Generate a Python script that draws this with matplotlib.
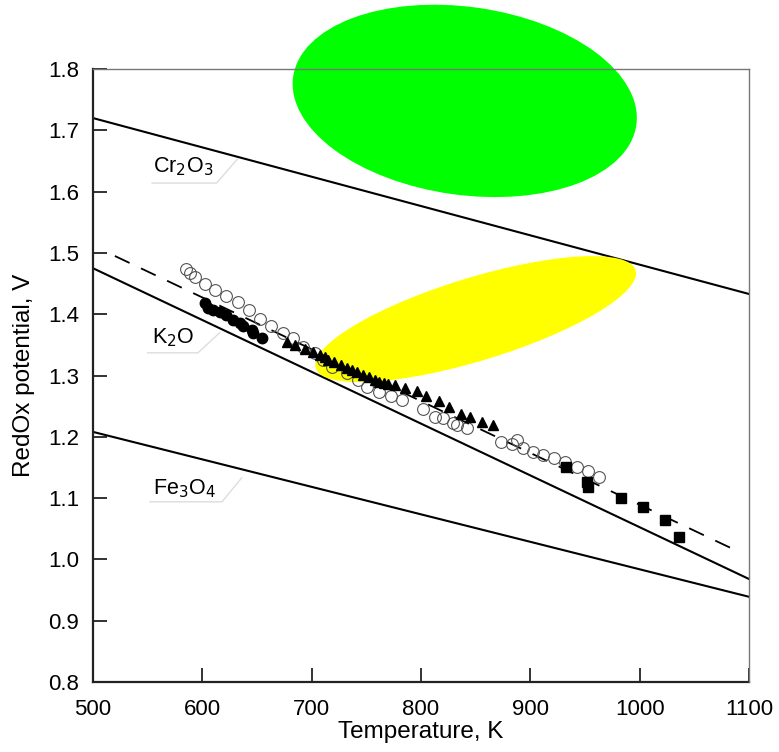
import matplotlib
matplotlib.use('Agg')
import matplotlib.pyplot as plt
from matplotlib.patches import Ellipse
from matplotlib.transforms import Affine2D

plt.rcParams['font.family'] = ['Liberation Sans', 'DejaVu Sans']

# open circles
T_open = [585, 589, 593, 602, 612, 622, 633, 643, 653, 663, 674, 683, 692, 703, 710, 719, 732,
          742, 751, 762, 773, 783, 802, 813, 820, 829, 833, 842, 873, 883, 888, 893, 902, 912,
          922, 932, 943, 953, 963]
V_open = [1.473, 1.467, 1.461, 1.450, 1.439, 1.430, 1.420, 1.407, 1.393, 1.381, 1.369, 1.361,
          1.347, 1.337, 1.325, 1.314, 1.304, 1.293, 1.281, 1.273, 1.267, 1.260, 1.245, 1.232,
          1.231, 1.222, 1.220, 1.214, 1.192, 1.189, 1.194, 1.181, 1.176, 1.170, 1.165, 1.159,
          1.151, 1.145, 1.134]

# filled circles
T_fc = [602, 605, 610, 616, 622, 628, 634, 637, 645, 646, 655]
V_fc = [1.418, 1.410, 1.407, 1.404, 1.399, 1.391, 1.385, 1.381, 1.374, 1.369, 1.361]

# filled triangles
T_tri = [677, 685, 694, 701, 708, 712, 715, 720, 727, 732, 737, 741, 747, 752, 758, 762, 766,
         770, 776, 785, 796, 805, 816, 826, 837, 845, 856, 866]
V_tri = [1.355, 1.350, 1.344, 1.339, 1.333, 1.330, 1.325, 1.322, 1.317, 1.313, 1.309, 1.306,
         1.301, 1.297, 1.293, 1.290, 1.287, 1.286, 1.284, 1.279, 1.274, 1.267, 1.259, 1.249,
         1.237, 1.233, 1.224, 1.219]

# filled squares
T_sq = [933, 952, 953, 983, 1003, 1023, 1036]
V_sq = [1.151, 1.127, 1.118, 1.100, 1.085, 1.065, 1.036]

# equilibrium lines
T_line = [500, 1100]
V_cr2o3 = [1.720, 1.433]
V_k2o = [1.475, 0.968]
V_fe3o4 = [1.208, 0.939]
T_dash = [520, 1090]
V_dash = [1.495, 1.013]

fig = plt.figure(figsize=(7.79, 7.52), dpi=100)
ax = fig.add_axes([0.1194, 0.0931, 0.8421, 0.8151])

ax.plot(T_line, V_cr2o3, color='black', lw=1.5, zorder=2)
ax.plot(T_line, V_k2o, color='black', lw=1.5, zorder=2)
ax.plot(T_line, V_fe3o4, color='black', lw=1.5, zorder=2)
ax.plot(T_dash, V_dash, color='black', lw=1.3, dashes=(9, 7), zorder=2)

# ellipses drawn in a space where x and y have the same pixel scale
k = 560.7
tr = Affine2D().scale(1, 1.0 / k) + ax.transData
green = Ellipse((840, 1.748 * k), 317, 172, angle=-8, facecolor='#00ff00',
                edgecolor='none', transform=tr, clip_on=False, zorder=1)
yellow = Ellipse((850, 1.392 * k), 306, 76, angle=17, facecolor='#ffff00',
                 edgecolor='none', transform=tr, zorder=3)
ax.add_patch(green)
ax.add_patch(yellow)

ax.plot(T_open, V_open, 'o', mfc='none', mec='#555555', mew=0.8, ms=8.5, zorder=4)
ax.plot(T_fc, V_fc, 'o', color='black', ms=7.5, zorder=5)
ax.plot(T_tri, V_tri, '^', color='black', ms=7.5, zorder=5)
ax.plot(T_sq, V_sq, 's', color='black', ms=7.5, zorder=5)

# oxide labels with faint callouts
labels = [('Cr$_2$O$_3$', 582, 1.640, [554, 613, 632], [1.614, 1.614, 1.653]),
          ('K$_2$O', 573, 1.361, [550, 596, 616], [1.337, 1.337, 1.370]),
          ('Fe$_3$O$_4$', 584, 1.116, [552, 618, 636], [1.094, 1.094, 1.133])]
for txt, tx, ty, lx, ly in labels:
    ax.plot(lx, ly, color='#dddddd', lw=1, zorder=1)
    ax.text(tx, ty, txt, fontsize=15.5, ha='center', va='center', zorder=6)

ax.set_xlim(500, 1100)
ax.set_ylim(0.8, 1.8)
ax.set_xticks([500, 600, 700, 800, 900, 1000, 1100])
ax.set_yticks([0.8, 0.9, 1.0, 1.1, 1.2, 1.3, 1.4, 1.5, 1.6, 1.7, 1.8])
ax.set_yticklabels(['0.8', '0.9', '1.0', '1.1', '1.2', '1.3', '1.4', '1.5', '1.6', '1.7', '1.8'])
ax.tick_params(direction='in', length=10, width=1.3, color='#222222', labelsize=16)
ax.tick_params(axis='x', pad=12)
ax.tick_params(axis='y', pad=10)

for s in ['left', 'bottom']:
    ax.spines[s].set_linewidth(1.6)
    ax.spines[s].set_color('#222222')
for s in ['top', 'right']:
    ax.spines[s].set_linewidth(1.0)
    ax.spines[s].set_color('#777777')
    ax.spines[s].set_zorder(7)

ax.set_xlabel('Temperature, K', fontsize=17.5, labelpad=1)
ax.set_ylabel('RedOx potential, V', fontsize=17.5, labelpad=9)

fig.savefig('out.png', dpi=100)
